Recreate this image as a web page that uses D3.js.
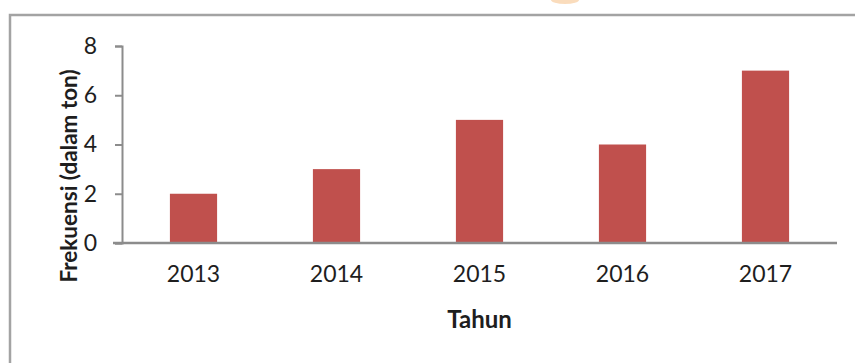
<!DOCTYPE html>
<html>
<head>
<meta charset="utf-8">
<script src="https://cdn.jsdelivr.net/npm/d3@7"></script>
<style>
  html, body { margin: 0; padding: 0; background: #fff; }
  svg { display: block; }
  text { font-family: Lato, "Open Sans", sans-serif; fill: #1e1e1e; }
</style>
</head>
<body>
<svg id="chart" width="855" height="363"></svg>
<script>
// Annual frequency, in tons
const years = ["2013", "2014", "2015", "2016", "2017"];
const frekuensi = [2, 3, 5, 4, 7];
const yTicks = [0, 2, 4, 6, 8];
const xTitle = "Tahun";
const yTitle = "Frekuensi (dalam ton)";

const svg = d3.select("#chart");
const W = 855, H = 363;
const plot = { left: 122, right: 837, top: 46, bottom: 243 };

svg.append("rect").attr("width", W).attr("height", H).attr("fill", "#fff");

// faint orange mark at the top edge
svg.append("ellipse")
  .attr("cx", 565).attr("cy", 0).attr("rx", 14).attr("ry", 4)
  .attr("fill", "#f7c58f").attr("opacity", 0.6);

// chart frame (top and left edges)
svg.append("path")
  .attr("d", `M10,${H} V15 H${W}`)
  .attr("fill", "none").attr("stroke", "#a3a3a3").attr("stroke-width", 2.5);

const x = d3.scaleBand()
  .domain(years)
  .range([plot.left, plot.right])
  .paddingInner(0.67)
  .paddingOuter(0.335);

const y = d3.scaleLinear().domain([0, 8]).range([plot.bottom, plot.top]);

// bars
svg.append("g").selectAll("rect")
  .data(years.map((yr, i) => ({ yr, v: frekuensi[i] })))
  .join("rect")
  .attr("x", d => x(d.yr))
  .attr("width", x.bandwidth())
  .attr("y", d => y(d.v))
  .attr("height", d => y(0) - y(d.v))
  .attr("fill", "#c0504d");

// y axis
const yAxis = svg.append("g")
  .attr("transform", `translate(${plot.left},0)`)
  .call(d3.axisLeft(y).tickValues(yTicks).tickSize(7).tickPadding(18).tickFormat(d3.format("d")));
yAxis.select(".domain").attr("stroke", "#8c8c8c").attr("stroke-width", 2);
yAxis.selectAll(".tick line").attr("stroke", "#8c8c8c").attr("stroke-width", 2);
yAxis.selectAll(".tick text")
  .attr("font-size", 23).attr("font-family", "Lato, sans-serif").attr("fill", "#1e1e1e");

// x axis
const xAxis = svg.append("g")
  .attr("transform", `translate(0,${plot.bottom})`)
  .call(d3.axisBottom(x).tickSize(0).tickPadding(23));
xAxis.select(".domain")
  .attr("d", `M${plot.left - 9},0H${plot.right}`)
  .attr("stroke", "#8c8c8c").attr("stroke-width", 2.5);
xAxis.selectAll(".tick text")
  .attr("font-size", 23).attr("font-family", "Lato, sans-serif").attr("fill", "#1e1e1e");

// axis titles
svg.append("text")
  .attr("x", (plot.left + plot.right) / 2)
  .attr("y", 328)
  .attr("text-anchor", "middle")
  .attr("font-size", 24).attr("font-weight", "bold")
  .text(xTitle);

svg.append("text")
  .attr("transform", `translate(77,176) rotate(-90)`)
  .attr("text-anchor", "middle")
  .attr("font-size", 22.5).attr("font-weight", "bold")
  .text(yTitle);
</script>
</body>
</html>
